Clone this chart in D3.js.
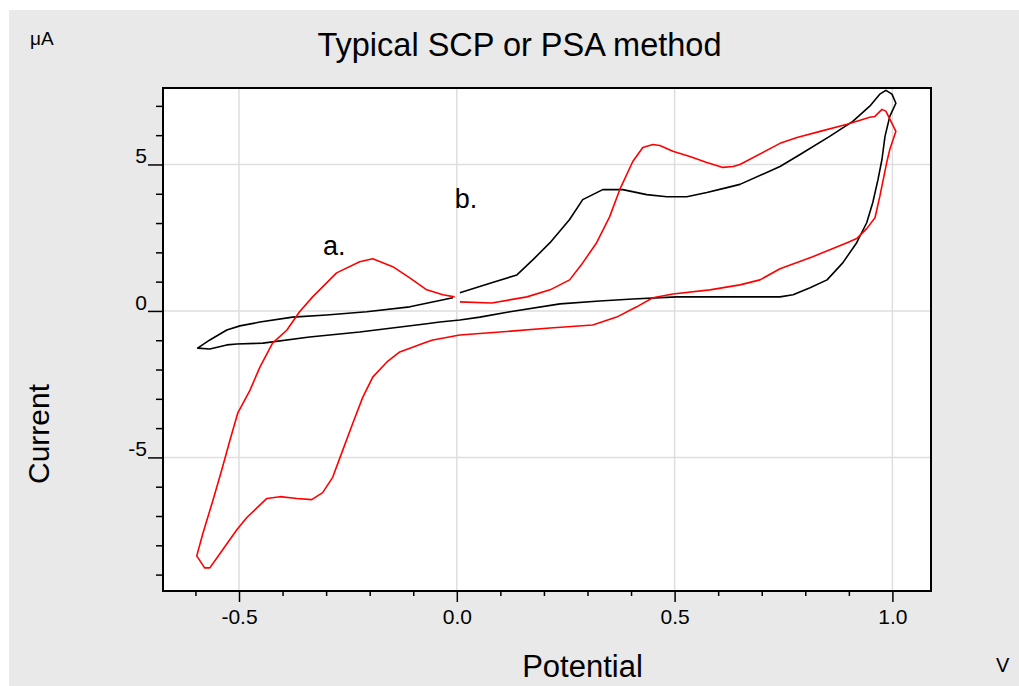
<!DOCTYPE html>
<html>
<head>
<meta charset="utf-8">
<script src="https://cdn.jsdelivr.net/npm/d3@7"></script>
<style>
  html, body { margin: 0; padding: 0; background: #ffffff; }
  svg { display: block; }
  text { font-family: "Liberation Sans", Arial, sans-serif; fill: #000; }
</style>
</head>
<body>
<svg id="chart" width="1019" height="686"></svg>
<script>
// ---------------- data ----------------
const chartTitle = "Typical SCP or PSA method";
const xAxisTitle = "Potential";
const yAxisTitle = "Current";
const xUnit = "V";
const yUnit = "μA";

const xMajorTicks = [-0.5, 0.0, 0.5, 1.0];
const xTickLabels = ["-0.5", "0.0", "0.5", "1.0"];
const xMinorTicks = [-0.6, -0.4, -0.3, -0.2, -0.1, 0.1, 0.2, 0.3, 0.4, 0.6, 0.7, 0.8, 0.9];
const yMajorTicks = [-5, 0, 5];
const yTickLabels = ["-5", "0", "5"];
const yMinorTicks = [-9, -8, -7, -6, -4, -3, -2, -1, 1, 2, 3, 4, 6, 7];

// curve b. (black) : [potential V, current µA]
const curveB = [
  [0.007,0.62],[0.080,0.96],[0.138,1.23],[0.175,1.75],[0.214,2.33],[0.259,3.12],[0.289,3.80],
  [0.335,4.14],[0.381,4.14],[0.436,3.97],[0.482,3.90],[0.528,3.90],[0.574,4.04],[0.620,4.21],
  [0.650,4.32],[0.742,4.93],[0.788,5.34],[0.856,5.96],[0.909,6.47],[0.948,6.99],[0.971,7.40],
  [0.985,7.53],[0.999,7.40],[1.008,7.09],[0.994,6.64],[0.983,5.96],[0.976,5.17],[0.967,4.49],
  [0.955,3.70],[0.941,3.01],[0.918,2.33],[0.886,1.64],[0.850,1.06],[0.811,0.79],[0.772,0.55],
  [0.742,0.48],[0.696,0.48],[0.505,0.48],[0.404,0.41],[0.328,0.34],[0.237,0.24],[0.122,-0.03],
  [0.053,-0.21],[0.007,-0.31],[-0.039,-0.38],[-0.069,-0.44],[-0.223,-0.72],[-0.338,-0.89],
  [-0.445,-1.10],[-0.505,-1.13],[-0.528,-1.16],[-0.567,-1.30],[-0.595,-1.27],[-0.567,-0.99],
  [-0.528,-0.65],[-0.498,-0.51],[-0.452,-0.38],[-0.377,-0.21],[-0.299,-0.14],[-0.207,-0.03],
  [-0.108,0.14],[-0.009,0.45]
];

// curve a. (red) : [potential V, current µA]
const curveA = [
  [0.007,0.31],[0.080,0.27],[0.161,0.48],[0.214,0.72],[0.259,1.06],[0.289,1.64],[0.321,2.33],
  [0.351,3.22],[0.374,4.14],[0.404,5.10],[0.427,5.58],[0.450,5.68],[0.466,5.65],[0.496,5.45],
  [0.535,5.27],[0.574,5.07],[0.611,4.90],[0.634,4.93],[0.650,5.00],[0.742,5.72],[0.781,5.92],
  [0.834,6.13],[0.896,6.37],[0.948,6.61],[0.960,6.64],[0.976,6.88],[0.985,6.82],[1.008,6.13],
  [0.994,5.51],[0.987,5.07],[0.971,3.90],[0.960,3.18],[0.941,2.81],[0.918,2.47],[0.896,2.33],
  [0.817,1.85],[0.742,1.44],[0.696,1.06],[0.650,0.89],[0.581,0.72],[0.496,0.58],[0.450,0.45],
  [0.413,0.14],[0.367,-0.21],[0.312,-0.48],[0.214,-0.58],[0.099,-0.72],[0.007,-0.82],
  [-0.055,-0.99],[-0.069,-1.06],[-0.131,-1.40],[-0.161,-1.75],[-0.193,-2.26],[-0.216,-2.95],
  [-0.239,-3.84],[-0.262,-4.76],[-0.285,-5.68],[-0.308,-6.20],[-0.333,-6.44],[-0.367,-6.40],
  [-0.406,-6.34],[-0.436,-6.40],[-0.482,-7.05],[-0.505,-7.47],[-0.544,-8.29],[-0.567,-8.77],
  [-0.579,-8.77],[-0.597,-8.36],[-0.583,-7.60],[-0.560,-6.47],[-0.540,-5.45],[-0.521,-4.42],
  [-0.503,-3.49],[-0.475,-2.71],[-0.452,-1.92],[-0.423,-1.10],[-0.390,-0.65],[-0.361,-0.03],
  [-0.331,0.48],[-0.276,1.30],[-0.223,1.68],[-0.193,1.78],[-0.147,1.51],[-0.108,1.13],
  [-0.069,0.72],[-0.032,0.55],[-0.005,0.48]
];

const annotations = [
  { text: "a.", v: -0.307, i: 1.92 },
  { text: "b.", v: -0.005, i: 3.53 }
];

// ---------------- layout ----------------
const svg = d3.select("#chart");
const plot = { left: 163, top: 88, right: 931, bottom: 591 };

const x = d3.scaleLinear().domain([-0.6745, 1.0886]).range([plot.left, plot.right]);
const y = d3.scaleLinear().domain([-9.56, 7.61]).range([plot.bottom, plot.top]);

// outer background
svg.append("rect").attr("x", 9).attr("y", 10).attr("width", 1010).attr("height", 676).attr("fill", "#e9e9e9");
// plot background
svg.append("rect").attr("x", plot.left).attr("y", plot.top)
  .attr("width", plot.right - plot.left).attr("height", plot.bottom - plot.top).attr("fill", "#ffffff");

// grid
const grid = svg.append("g").attr("stroke", "#dedede").attr("stroke-width", 1.5);
grid.selectAll("line.gx").data(xMajorTicks).join("line").attr("class", "gx")
  .attr("x1", d => x(d)).attr("x2", d => x(d)).attr("y1", plot.top).attr("y2", plot.bottom);
grid.selectAll("line.gy").data(yMajorTicks).join("line").attr("class", "gy")
  .attr("y1", d => y(d)).attr("y2", d => y(d)).attr("x1", plot.left).attr("x2", plot.right);

// curves
const clipId = "plotclip";
svg.append("clipPath").attr("id", clipId).append("rect")
  .attr("x", plot.left).attr("y", plot.top).attr("width", plot.right - plot.left).attr("height", plot.bottom - plot.top);
const line = d3.line().x(d => x(d[0])).y(d => y(d[1]));
const curves = svg.append("g").attr("clip-path", `url(#${clipId})`);
curves.append("path").datum(curveB).attr("d", line).attr("fill", "none").attr("stroke", "#000000").attr("stroke-width", 1.6).attr("stroke-linejoin", "round");
curves.append("path").datum(curveA).attr("d", line).attr("fill", "none").attr("stroke", "#ff0000").attr("stroke-width", 1.6).attr("stroke-linejoin", "round");

// axes (D3 axes for ticks)
const xAxisMajor = d3.axisBottom(x).tickValues(xMajorTicks).tickSize(11).tickPadding(8)
  .tickFormat((d, i) => xTickLabels[i]);
const gx = svg.append("g").attr("transform", `translate(0,${plot.bottom})`).call(xAxisMajor);
gx.select(".domain").remove();
gx.selectAll("line").attr("stroke", "#000").attr("stroke-width", 1.5);
gx.selectAll("text").attr("font-size", 21).attr("font-family", "Liberation Sans, Arial, sans-serif")
  .attr("dy", null).attr("y", 33).attr("fill", "#000");

const xAxisMinor = d3.axisBottom(x).tickValues(xMinorTicks).tickSize(5).tickFormat("");
const gxm = svg.append("g").attr("transform", `translate(0,${plot.bottom})`).call(xAxisMinor);
gxm.select(".domain").remove();
gxm.selectAll("line").attr("stroke", "#000").attr("stroke-width", 1.5);

const yAxisMajor = d3.axisLeft(y).tickValues(yMajorTicks).tickSize(15).tickPadding(0)
  .tickFormat((d, i) => yTickLabels[i]);
const gy = svg.append("g").attr("transform", `translate(${plot.left},0)`).call(yAxisMajor);
gy.select(".domain").remove();
gy.selectAll("line").attr("stroke", "#000").attr("stroke-width", 1.5);
gy.selectAll("text").attr("font-size", 21).attr("font-family", "Liberation Sans, Arial, sans-serif")
  .attr("x", -16).attr("dy", "-0.08em").attr("fill", "#000");

const yAxisMinor = d3.axisLeft(y).tickValues(yMinorTicks).tickSize(7).tickFormat("");
const gym = svg.append("g").attr("transform", `translate(${plot.left},0)`).call(yAxisMinor);
gym.select(".domain").remove();
gym.selectAll("line").attr("stroke", "#000").attr("stroke-width", 1.5);

// frame
svg.append("rect").attr("x", plot.left).attr("y", plot.top)
  .attr("width", plot.right - plot.left).attr("height", plot.bottom - plot.top)
  .attr("fill", "none").attr("stroke", "#000").attr("stroke-width", 2);

// texts
svg.append("text").attr("x", 519.5).attr("y", 56).attr("text-anchor", "middle")
  .attr("font-size", 32.5).text(chartTitle);
svg.append("text").attr("x", 582.5).attr("y", 677).attr("text-anchor", "middle")
  .attr("font-size", 31).text(xAxisTitle);
svg.append("text").attr("transform", "translate(49,434) rotate(-90)").attr("text-anchor", "middle")
  .attr("font-size", 30).text(yAxisTitle);
svg.append("text").attr("x", 30).attr("y", 45).attr("font-size", 19).text(yUnit);
svg.append("text").attr("x", 996).attr("y", 672).attr("font-size", 20).text(xUnit);

svg.selectAll("text.ann").data(annotations).join("text").attr("class", "ann")
  .attr("x", d => x(d.v)).attr("y", d => y(d.i))
  .attr("font-family", "Lato, 'Open Sans', sans-serif").attr("font-size", 27)
  .text(d => d.text);
</script>
</body>
</html>
